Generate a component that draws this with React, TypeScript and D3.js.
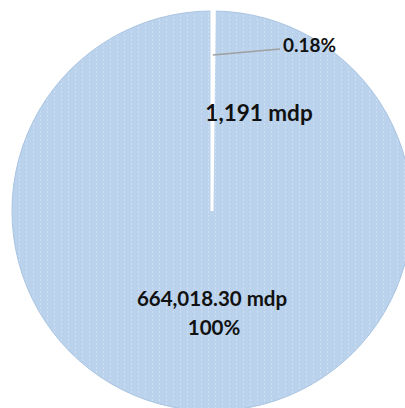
import { useEffect, useRef } from "react";
import * as d3 from "d3";

const sliceNames = ["Otros", "Total"];
const sliceValues = [1191, 664018.3];
const valueLabels = ["1,191 mdp", "664,018.30 mdp"];
const percentLabels = ["0.18%", "100%"];

const WIDTH = 405;
const HEIGHT = 408;

export default function App() {
  const ref = useRef<SVGSVGElement | null>(null);

  useEffect(() => {
    if (!ref.current) return;
    const svg = d3.select(ref.current);
    svg.selectAll("*").remove();

    const cx = 212;
    const cy = 211;
    const radius = 200;
    const font = "Lato, 'Open Sans', sans-serif";

    // subtle vertical dotted texture of the original fill
    const defs = svg.append("defs");
    const pat = defs
      .append("pattern")
      .attr("id", "tex")
      .attr("patternUnits", "userSpaceOnUse")
      .attr("width", 7)
      .attr("height", 4);
    pat.append("rect").attr("width", 7).attr("height", 4).attr("fill", "#bad2eb");
    pat
      .append("line")
      .attr("x1", 3.5)
      .attr("x2", 3.5)
      .attr("y1", 0)
      .attr("y2", 2)
      .attr("stroke", "#cddff2")
      .attr("stroke-width", 1);

    const pie = d3
      .pie<number>()
      .sort(null)
      .value((d) => d);
    const arcs = pie(sliceValues);
    const arc = d3.arc<d3.PieArcDatum<number>>().innerRadius(0).outerRadius(radius);

    const g = svg.append("g").attr("transform", `translate(${cx},${cy})`);

    // big slice first, small white slice on top so its border shows as a white bar
    const order = [1, 0];
    g.selectAll("path")
      .data(order.map((i) => ({ a: arcs[i], i })))
      .join("path")
      .attr("d", (d) => arc(d.a))
      .attr("fill", (d) => (d.i === 0 ? "#ffffff" : "url(#tex)"))
      .attr("stroke", (d) => (d.i === 0 ? "#ffffff" : "#a9c4e2"))
      .attr("stroke-width", (d) => (d.i === 0 ? 3 : 1))
      .attr("stroke-linejoin", "miter")
      .append("title")
      .text((d) => sliceNames[d.i]);

    // leader line for the small slice
    const small = arcs[0];
    const mid = (small.startAngle + small.endAngle) / 2;
    const r1 = radius * 0.78;
    const p0 = [Math.sin(mid) * r1, -Math.cos(mid) * r1];
    g.append("line")
      .attr("x1", p0[0])
      .attr("y1", p0[1])
      .attr("x2", 68)
      .attr("y2", -162)
      .attr("stroke", "#9f9f9f")
      .attr("stroke-width", 1.3);

    const label = (x: number, y: number, size: number, txt: string, anchor: string) =>
      g
        .append("text")
        .attr("x", x)
        .attr("y", y)
        .attr("text-anchor", anchor)
        .attr("font-family", font)
        .attr("font-weight", 700)
        .attr("font-size", size)
        .attr("fill", "#111")
        .text(txt);

    label(71, -159, 19, percentLabels[0], "start");
    label(47, -90, 22.5, valueLabels[0], "middle");
    label(0, 95, 20.5, valueLabels[1], "middle");
    label(2, 124, 20.5, percentLabels[1], "middle");
  }, []);

  return (
    <svg
      ref={ref}
      width={WIDTH}
      height={HEIGHT}
      style={{ position: "absolute", left: 0, top: 0, background: "#fff" }}
    />
  );
}
